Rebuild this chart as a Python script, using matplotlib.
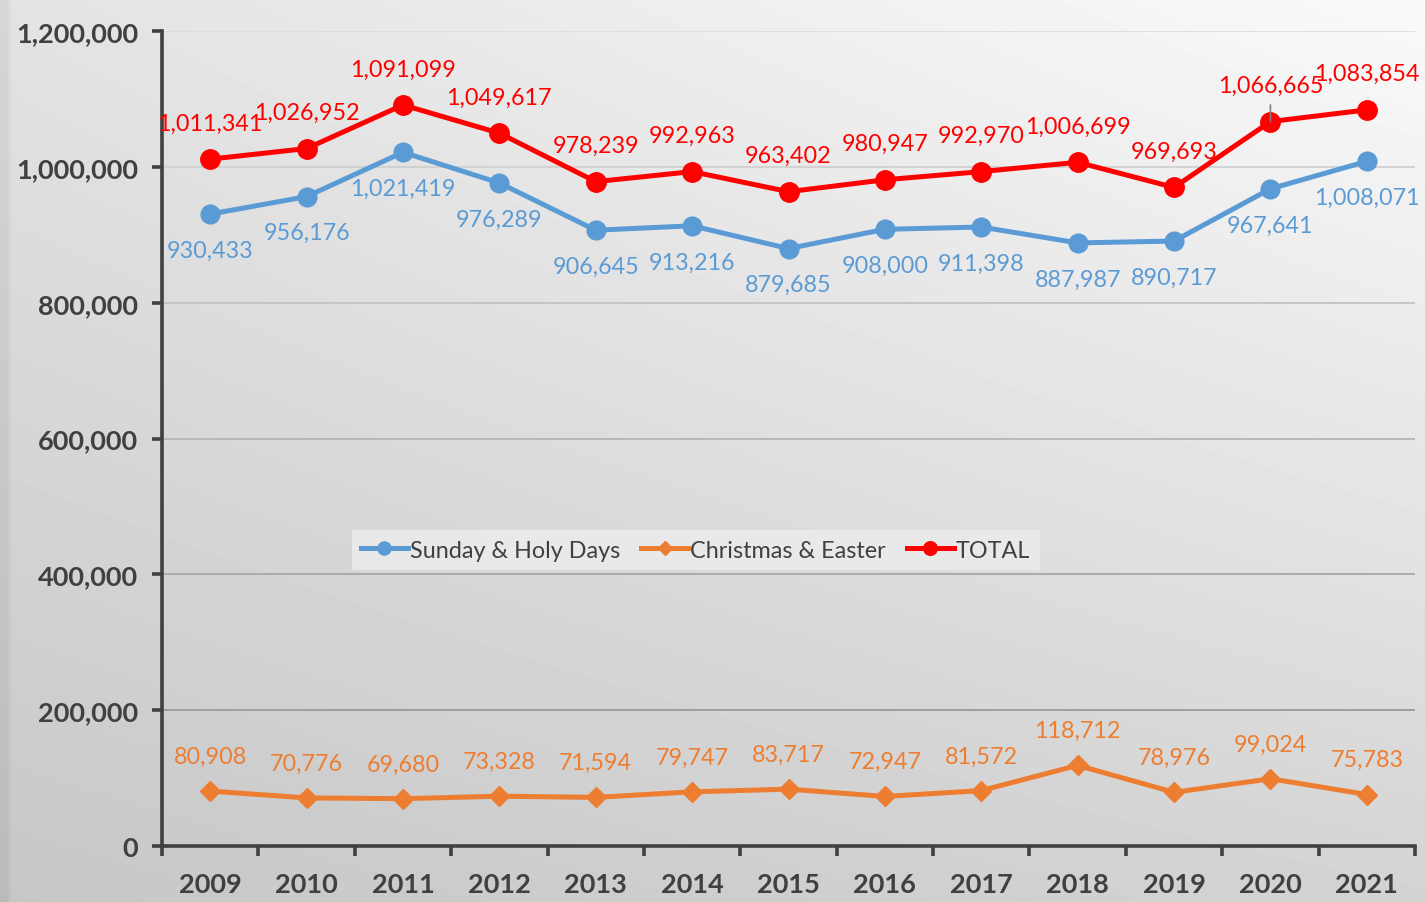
import numpy as np
import matplotlib
matplotlib.use("Agg")
import matplotlib.pyplot as plt
from matplotlib.ticker import FuncFormatter, FixedLocator

plt.rcParams['font.family'] = ['Lato', 'DejaVu Sans']

years = ['2009', '2010', '2011', '2012', '2013', '2014', '2015', '2016',
         '2017', '2018', '2019', '2020', '2021']
sunday = [930433, 956176, 1021419, 976289, 906645, 913216, 879685, 908000,
          911398, 887987, 890717, 967641, 1008071]
christmas = [80908, 70776, 69680, 73328, 71594, 79747, 83717, 72947,
             81572, 118712, 78976, 99024, 75783]
total = [1011341, 1026952, 1091099, 1049617, 978239, 992963, 963402, 980947,
         992970, 1006699, 969693, 1066665, 1083854]
series_names = ['Sunday & Holy Days', 'Christmas & Easter', 'TOTAL']

W, H = 1425, 903
fig = plt.figure(figsize=(W / 100, H / 100), dpi=100)

# background gradient
bg = fig.add_axes([0, 0, 1, 1], zorder=-10)
xs = np.linspace(0, 1, 300)
ys = np.linspace(0, 1, 200)
X, Y = np.meshgrid(xs, ys)
V = 0.78 + 0.05 * X + 0.11 * Y + 0.04 * X * Y
V[:, :2] -= 0.05
bg.imshow(V, cmap='gray', vmin=0, vmax=1, origin='lower', aspect='auto',
          extent=[0, 1, 0, 1], interpolation='bilinear')
bg.set_axis_off()

ax = fig.add_axes([162 / W, 1 - 847 / H, (1415 - 162) / W, (847 - 32) / H])
ax.patch.set_alpha(0)

x = np.arange(len(years))
blue = '#5b9bd5'
orange = '#ed7d31'
red = '#ff0000'

ax.plot(x, sunday, color=blue, lw=3.6, marker='o', ms=13.5, zorder=3,
        label=series_names[0])
ax.plot(x, christmas, color=orange, lw=3.6, marker='D', ms=10, zorder=3,
        label=series_names[1])
ax.plot(x, total, color=red, lw=3.6, marker='o', ms=14, zorder=4,
        label=series_names[2])

fs_lab = 16.8
for i in range(len(years)):
    ax.annotate(f'{total[i]:,}', (x[i], total[i]), xytext=(0, 26),
                textcoords='offset points', ha='center', va='center',
                color=red, fontsize=fs_lab, zorder=6)
    ax.annotate(f'{sunday[i]:,}', (x[i], sunday[i]), xytext=(0, -26),
                textcoords='offset points', ha='center', va='center',
                color=blue, fontsize=fs_lab, zorder=6)
    ax.annotate(f'{christmas[i]:,}', (x[i], christmas[i]), xytext=(0, 25),
                textcoords='offset points', ha='center', va='center',
                color=orange, fontsize=fs_lab, zorder=6)

# leader line for 2020 total
ax.annotate('', (x[11], total[11]), xytext=(0, 12), textcoords='offset points',
            arrowprops=dict(arrowstyle='-', color='#808080', lw=1.2,
                            shrinkA=0, shrinkB=0), zorder=5)

ax.set_xlim(-0.5, len(years) - 0.5)
ax.set_ylim(0, 1200000)
ax.set_yticks(np.arange(0, 1200001, 200000))
ax.yaxis.set_major_formatter(FuncFormatter(lambda v, p: f'{int(v):,}'))
ax.set_xticks(x)
ax.set_xticklabels(years)
ax.xaxis.set_minor_locator(FixedLocator(np.arange(-0.5, len(years), 1.0)))

dark = '#404040'
for s in ['top', 'right']:
    ax.spines[s].set_visible(False)
for s in ['left', 'bottom']:
    ax.spines[s].set_color(dark)
    ax.spines[s].set_linewidth(2.6)

ax.tick_params(axis='y', direction='out', length=7, width=2.6, color=dark,
               labelsize=19.5, labelcolor=dark, pad=10)
ax.tick_params(axis='x', which='major', length=0, labelsize=19.5,
               labelcolor=dark, pad=19)
ax.tick_params(axis='x', which='minor', direction='out', length=7, width=2.6,
               color=dark)
for lab in ax.get_yticklabels() + ax.get_xticklabels():
    lab.set_fontweight('bold')

ax.yaxis.grid(True, lw=1.3, zorder=0)
ax.set_axisbelow(True)
for gl, v in zip(ax.get_ygridlines(), ax.get_yticks()):
    t = v / 1200000
    c = 0.55 + 0.32 * t
    gl.set_color((c, c, c))

leg = ax.legend(loc='center', bbox_to_anchor=(0.426, 0.363), ncol=3,
                frameon=True, fontsize=16.8, handlelength=2.0,
                handletextpad=0.1, columnspacing=0.9, markerscale=0.7,
                borderpad=0.4)
leg.get_frame().set_facecolor('#ebebeb')
leg.get_frame().set_edgecolor('none')
leg.get_frame().set_alpha(0.9)
leg.get_frame().set_boxstyle('square', pad=0.0)
for t in leg.get_texts():
    t.set_color(dark)

fig.savefig('out.png', dpi=100)
